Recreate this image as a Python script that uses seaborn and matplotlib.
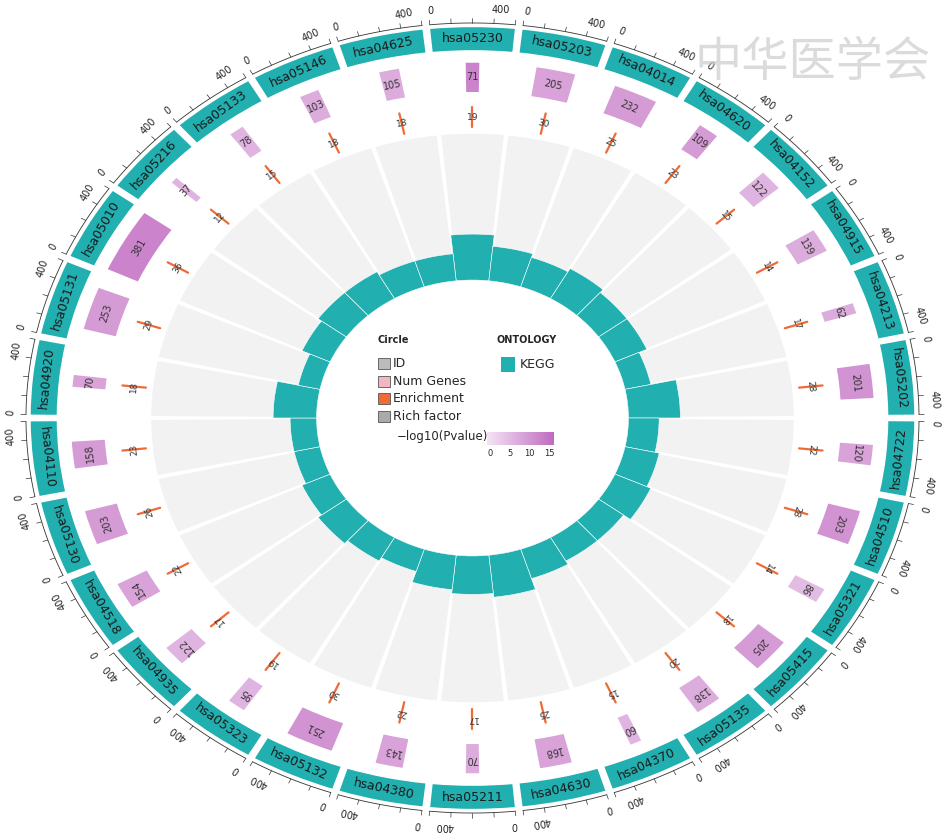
import numpy as np
import matplotlib
matplotlib.use("Agg")
import matplotlib.pyplot as plt
from matplotlib.patches import Wedge, Rectangle
import seaborn as sns

sns.set_style("white")
plt.rcParams['font.family'] = ['DejaVu Sans', 'Noto Sans CJK SC']

ids = ["hsa05230","hsa05203","hsa04014","hsa04620","hsa04152","hsa04915","hsa04213",
       "hsa05202","hsa04722","hsa04510","hsa05321","hsa05415","hsa05135","hsa04370",
       "hsa04630","hsa05211","hsa04380","hsa05132","hsa05323","hsa04935","hsa04518",
       "hsa05130","hsa04110","hsa04920","hsa05131","hsa05010","hsa05216","hsa05133",
       "hsa05146","hsa04625"]
num_genes = [71,205,232,109,122,139,62,201,120,203,86,205,138,60,168,70,143,251,95,122,
             154,203,158,70,253,381,37,78,103,105]
enrichment = [19,30,25,23,15,14,17,28,22,28,14,18,20,15,25,17,22,30,19,17,22,26,23,18,
              29,36,12,15,18,18]
neglog10p = [12,8,9,9,6,7,7,10,8,10,5,9,7,6,8,7,8,10,6,6,8,9,9,8,9,12,6,6,7,7]
rich_factor = [1.00,0.70,0.60,0.70,0.60,0.60,0.40,1.00,0.50,0.60,0.70,0.50,0.50,0.60,
               0.90,0.80,0.70,0.40,0.50,0.60,0.50,0.40,0.40,0.80,0.30,0.50,0.60,0.60,
               0.50,0.50]

teal = "#22AFB0"
cmap = sns.blend_palette(["#F5E4F5", "#C06BC0"], as_cmap=True)

fig = plt.figure(figsize=(9.45, 8.36), dpi=100)
ax = fig.add_axes([0, 0, 1, 1])
ax.set_xlim(-1.0, 1.0)
ax.set_ylim(-1.0, 1.0)
ax.axis("off")

n = len(ids)
step = 360 / n
R_in, R_bar_max = 0.33, 0.44
R_gray = 0.68

def pol(r, a):
    t = np.deg2rad(a)
    return r * np.cos(t), r * np.sin(t)

for i in range(n):
    c = 90 - i * step
    a0, a1 = c - step / 2, c + step / 2
    ax.add_patch(Wedge((0, 0), R_gray, a0 + 0.4, a1 - 0.4, width=R_gray - R_in,
                       facecolor="#F2F2F2", edgecolor="none"))
    h = rich_factor[i] * (R_bar_max - R_in - 0.02) + 0.02
    ax.add_patch(Wedge((0, 0), R_in + h, a0, a1, width=h, facecolor=teal,
                       edgecolor="white", linewidth=0.4))
    ax.add_patch(Wedge((0, 0), 0.935, a0 + 0.5, a1 - 0.5, width=0.055,
                       facecolor=teal, edgecolor="none"))
    rot = c - 90
    rot = (rot + 180) % 360 - 180
    if rot > 90: rot -= 180
    if rot < -90: rot += 180
    x, y = pol(0.907, c)
    ax.text(x, y, ids[i], rotation=rot, ha="center", va="center", fontsize=9, color="#1a1a1a")
    arc = np.linspace(a0 + 0.5, a1 - 0.5, 30)
    ax.plot(*pol(0.945, arc), color="#333333", lw=0.6)
    for k in range(5):
        ta = a1 - 0.5 - k * (step - 1) / 4
        ax.plot(*pol(np.array([0.945, 0.956]), np.array([ta, ta])), color="#333333", lw=0.5)
    for lab, ta in (("0", a1 - 0.8), ("400", a0 + 2.5)):
        x, y = pol(0.978, ta)
        ax.text(x, y, lab, rotation=c - 90, ha="center", va="center", fontsize=7, color="#222222")
    w = num_genes[i] / 400 * (step - 1)
    ax.add_patch(Wedge((0, 0), 0.85, c - w / 2, c + w / 2, width=0.07,
                       facecolor=cmap(neglog10p[i] / 15), edgecolor="none"))
    x, y = pol(0.815, c)
    ax.text(x, y, str(num_genes[i]), rotation=c - 90, ha="center", va="center",
            fontsize=7, color="#333333")
    ax.plot(*pol(np.array([0.695, 0.745]), np.array([c, c])), color="#F06A35", lw=1.6)
    x, y = pol(0.72, c)
    ax.text(x, y, str(enrichment[i]), rotation=c - 90, ha="center", va="center",
            fontsize=6.5, color="#333333")

ax.text(-0.2, 0.18, "Circle", fontsize=7, fontweight="bold", ha="left")
items = [("ID", "#BBBBBB"), ("Num Genes", "#F4B6C2"), ("Enrichment", "#F06A35"), ("Rich factor", "#AAAAAA")]
for k, (lab, col) in enumerate(items):
    yy = 0.13 - k * 0.042
    ax.add_patch(Rectangle((-0.2, yy - 0.013), 0.025, 0.026, facecolor=col, edgecolor="#555555", lw=0.6))
    ax.text(-0.168, yy, lab, fontsize=9, va="center")
ax.text(0.05, 0.18, "ONTOLOGY", fontsize=7, fontweight="bold", ha="left")
ax.add_patch(Rectangle((0.06, 0.11), 0.03, 0.036, facecolor=teal, edgecolor="none"))
ax.text(0.1, 0.128, "KEGG", fontsize=9, va="center")
ax.text(-0.16, -0.045, "\u2212log10(Pvalue)", fontsize=8.5, va="center")
cax = fig.add_axes([0.515, 0.468, 0.07, 0.015])
grad = np.linspace(0, 15, 100).reshape(1, -1)
cax.imshow(grad, aspect="auto", cmap=cmap, extent=[-1, 16, 0, 1])
cax.set_yticks([])
cax.set_xticks([0, 5, 10, 15])
cax.tick_params(labelsize=6, length=2, pad=1)
for s in cax.spines.values():
    s.set_visible(False)

ax.text(0.72, 0.85, "中华医学会", fontsize=34, color="#CCCCCC", alpha=0.7,
        ha="center", va="center", family=["Noto Sans CJK SC"], style="italic")

fig.savefig("out.png", dpi=100)
